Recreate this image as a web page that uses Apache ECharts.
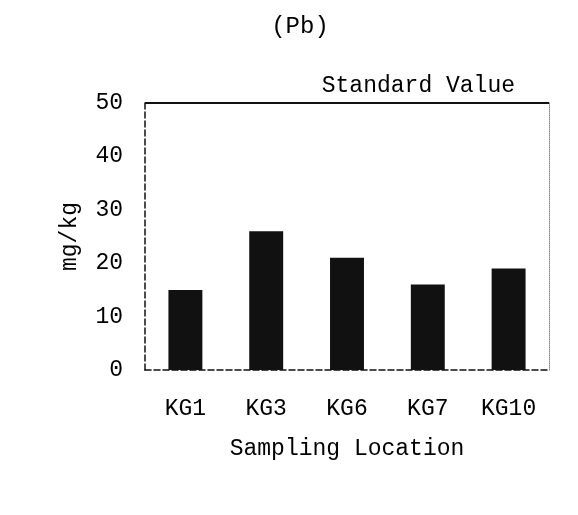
<!DOCTYPE html>
<html><head><meta charset="utf-8">
<script src="https://cdn.jsdelivr.net/npm/echarts@6/dist/echarts.min.js"></script>
<style>html,body{margin:0;padding:0;background:#fff}#c{width:578px;height:515px}</style>
</head><body><div id="c"></div>
<script>
const categories = ['KG1','KG3','KG6','KG7','KG10'];
const pbValues = [15, 26, 21, 16, 19];
const standardValue = 50;
const yTicks = [0, 10, 20, 30, 40, 50];

const font = 'Liberation Mono';
const chart = echarts.init(document.getElementById('c'));
chart.setOption({
  backgroundColor: '#fff',
  animation: false,
  title: {
    text: '(Pb)', left: 295, top: 10, textAlign: 'center',
    textStyle: {fontFamily: font, fontSize: 24, fontWeight: 'normal', color: '#000'}
  },
  grid: {left: 145, right: 29, top: 103, bottom: 145},
  xAxis: {
    type: 'category', data: categories,
    name: 'Sampling Location', nameLocation: 'middle', nameGap: 67,
    nameTextStyle: {fontFamily: font, fontSize: 23, color: '#000'},
    axisLine: {lineStyle: {color: '#111', width: 1.5, type: 'dashed'}},
    axisTick: {show: false},
    axisLabel: {fontFamily: font, fontSize: 23, color: '#000', margin: 27, interval: 0}
  },
  yAxis: [{
    type: 'value', min: 0, max: yTicks[yTicks.length-1], interval: 10,
    name: 'mg/kg', nameLocation: 'middle', nameGap: 64, nameRotate: 90,
    nameTextStyle: {fontFamily: font, fontSize: 23, color: '#000'},
    axisLine: {show: true, lineStyle: {color: '#111', width: 1.5, type: 'dashed'}},
    axisTick: {show: false},
    splitLine: {show: false},
    axisLabel: {fontFamily: font, fontSize: 23, color: '#000', margin: 22}
  }, {
    type: 'value', min: 0, max: 50, interval: 10, position: 'right',
    axisLine: {show: true, lineStyle: {color: '#888', width: 1, type: 'dotted'}},
    axisTick: {show: false}, axisLabel: {show: false}, splitLine: {show: false}
  }],
  series: [{
    type: 'bar', data: pbValues, barWidth: '42%',
    itemStyle: {color: '#111'},
    markLine: {
      symbol: 'none', silent: true,
      lineStyle: {color: '#111', width: 2, type: 'solid'},
      label: {
        show: true, position: 'insideEndTop', formatter: 'Standard Value',
        fontFamily: font, fontSize: 23, color: '#000', distance: [34, 6]
      },
      data: [{yAxis: standardValue}]
    }
  }]
});
</script></body></html>
